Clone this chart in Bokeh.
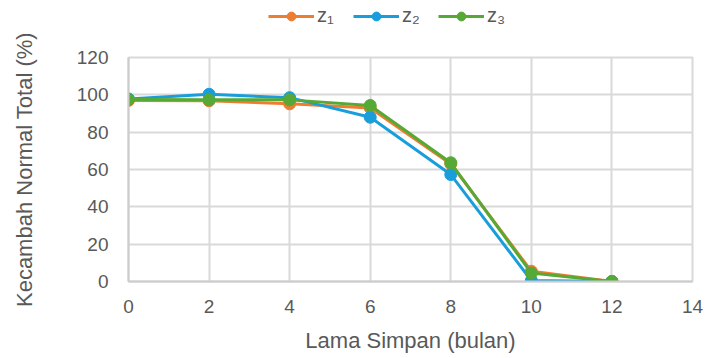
from bokeh.plotting import figure
from bokeh.layouts import column
from bokeh.models import Legend, LegendItem, FixedTicker, Range1d
from bokeh.embed import file_html
from bokeh.resources import INLINE

months = [0, 2, 4, 6, 8, 10, 12]
z1 = [97.0, 96.8, 95.2, 93.0, 63.0, 5.5, 0.0]
z2 = [97.8, 100.3, 98.5, 88.0, 57.3, 0.5, 0.0]
z3 = [97.5, 97.3, 97.3, 94.3, 63.6, 4.5, 0.0]
series_names = ["z\u2081", "z\u2082", "z\u2083"]
colors = ["#ed7d31", "#1a9edb", "#57a935"]
x_ticks = [0, 2, 4, 6, 8, 10, 12, 14]
y_ticks = [0, 20, 40, 60, 80, 100, 120]

FONT = "Liberation Sans"
TXT = "#595959"
GRID = "#d9d9d9"
LEG_H = 34

p = figure(width=707, height=358 - LEG_H, output_backend="svg",
           toolbar_location=None, x_range=Range1d(0, 14), y_range=Range1d(0, 120),
           min_border_left=128, min_border_right=15, min_border_top=57 - LEG_H,
           min_border_bottom=77)
p.outline_line_color = GRID
p.outline_line_width = 2
p.background_fill_color = "white"
p.border_fill_color = "white"

for ax in (p.xaxis[0], p.yaxis[0]):
    ax.axis_line_color = "#cccccc"
    ax.axis_line_width = 2
    ax.major_tick_line_color = None
    ax.minor_tick_line_color = None
    ax.major_label_text_font = FONT
    ax.major_label_text_font_size = "19px"
    ax.major_label_text_color = TXT
    ax.axis_label_text_font = FONT
    ax.axis_label_text_font_size = "22px"
    ax.axis_label_text_font_style = "normal"
    ax.axis_label_text_color = TXT

p.xaxis.ticker = FixedTicker(ticks=x_ticks)
p.yaxis.ticker = FixedTicker(ticks=y_ticks)
p.xaxis.axis_label = "Lama Simpan (bulan)"
p.yaxis.axis_label = "Kecambah Normal Total (%)"
p.xaxis.major_label_standoff = 12
p.yaxis.major_label_standoff = 14
p.xaxis.axis_label_standoff = 12
p.yaxis.axis_label_standoff = 37

p.xgrid.ticker = FixedTicker(ticks=x_ticks)
p.ygrid.ticker = FixedTicker(ticks=y_ticks)
p.xgrid.grid_line_color = GRID
p.ygrid.grid_line_color = GRID
p.xgrid.grid_line_width = 2
p.ygrid.grid_line_width = 2

for ys, c in zip([z1, z2, z3], colors):
    p.line(months, ys, line_color=c, line_width=3)
    p.scatter(months, ys, size=12, fill_color=c, line_color=c)

# legend strip above the chart (its frame is aligned with the chart frame by the column layout)
lg = figure(width=707, height=LEG_H, output_backend="svg", toolbar_location=None,
            x_range=Range1d(0, 1), y_range=Range1d(0, 1),
            x_axis_type=None, y_axis_type=None,
            min_border_left=128, min_border_right=15, min_border_top=0, min_border_bottom=0)
lg.outline_line_color = None
lg.xgrid.visible = False
lg.ygrid.visible = False
lg.background_fill_color = "white"
items = []
for name, c in zip(series_names, colors):
    # proxy renderers placed outside the visible range; only their legend swatches show
    l = lg.line([-5, -4], [-5, -5], line_color=c, line_width=3)
    s = lg.scatter([-5], [-5], size=12, fill_color=c, line_color=c)
    items.append(LegendItem(label=name, renderers=[l, s]))
legend = Legend(items=items, orientation="horizontal", location=(140, 7),
                label_text_font=FONT, label_text_font_size="20px",
                label_text_color=TXT, border_line_color=None,
                glyph_width=46, glyph_height=22, spacing=16, label_standoff=3,
                padding=2, margin=0, background_fill_alpha=0)
lg.add_layout(legend)

layout = column(lg, p, spacing=0)
open("out.html", "w").write(file_html(layout, INLINE))
